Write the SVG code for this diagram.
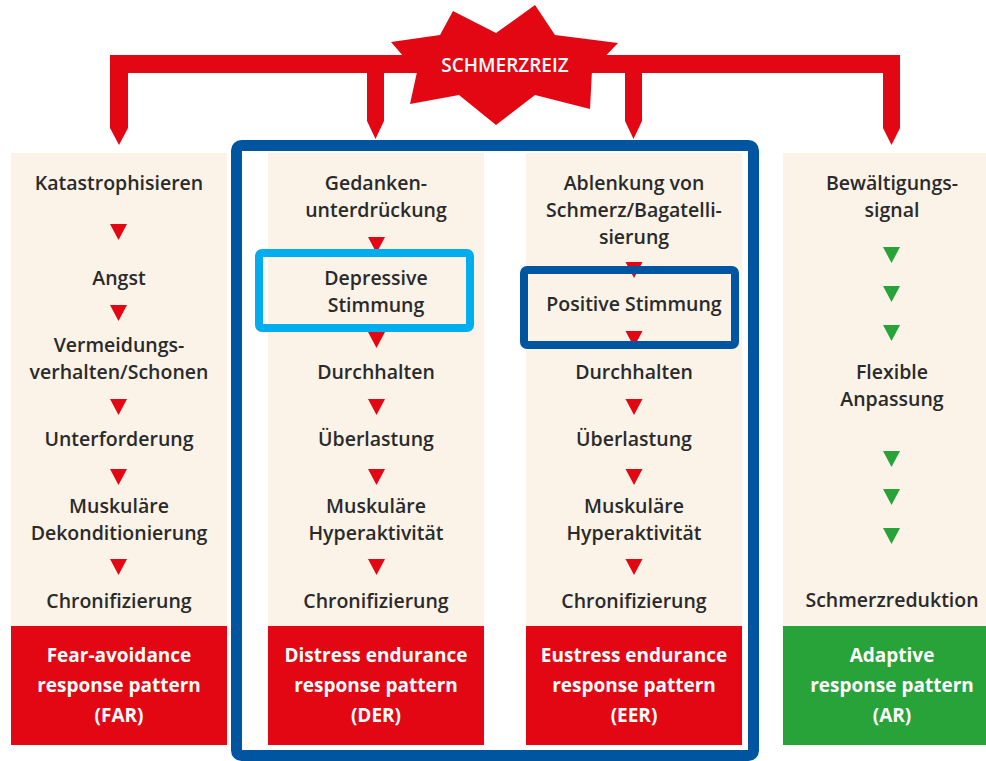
<svg xmlns="http://www.w3.org/2000/svg" xmlns:xlink="http://www.w3.org/1999/xlink" width="986" height="761" viewBox="0 0 986 761">
<style>
.bg{fill:#fbf3e8}
.red{fill:#e30613}
.green{fill:#27a33a}
.t{font-family:"Open Sans","Liberation Sans",sans-serif;font-size:19.5px;font-weight:600;fill:#2a2a2a;text-anchor:middle}
.w{font-family:"Open Sans","Liberation Sans",sans-serif;font-size:19px;font-weight:700;fill:#fff;text-anchor:middle}
.star{font-family:"Open Sans","Liberation Sans",sans-serif;font-size:19px;font-weight:600;fill:#fff;text-anchor:middle}
</style>
<defs>
<path id="tri" d="M-8.5,0 H8.5 L0,16 Z"/>
</defs>
<rect width="986" height="761" fill="#fff"/>

<g id="columns">
<rect class="bg" x="11" y="153" width="216" height="473"/>
<rect class="bg" x="268" y="153" width="216" height="473"/>
<rect class="bg" x="526" y="153" width="216" height="473"/>
<rect class="bg" x="783" y="153" width="216" height="473"/>
</g>

<g id="connectors">
<path class="red" d="M110,55 H900 V128 L891.5,145 L883,128 V73 H642 V121 L633.5,139 L625,121 V73 H384 V121 L375.5,139 L367,121 V73 H128 V128 L119,145 L110,128 Z"/>
<g class="red">
<use xlink:href="#tri" x="118.5" y="224"/>
<use xlink:href="#tri" x="118.5" y="305"/>
<use xlink:href="#tri" x="118.5" y="399"/>
<use xlink:href="#tri" x="118.5" y="469"/>
<use xlink:href="#tri" x="118.5" y="559"/>
<use xlink:href="#tri" x="376.5" y="237"/>
<use xlink:href="#tri" x="376.5" y="332"/>
<use xlink:href="#tri" x="376.5" y="399"/>
<use xlink:href="#tri" x="376.5" y="469"/>
<use xlink:href="#tri" x="376.5" y="559"/>
<use xlink:href="#tri" x="634" y="262"/>
<use xlink:href="#tri" x="634" y="331"/>
<use xlink:href="#tri" x="634" y="399"/>
<use xlink:href="#tri" x="634" y="469"/>
<use xlink:href="#tri" x="634" y="559"/>
</g>
<g class="green">
<use xlink:href="#tri" x="891.5" y="247"/>
<use xlink:href="#tri" x="891.5" y="286"/>
<use xlink:href="#tri" x="891.5" y="325"/>
<use xlink:href="#tri" x="891.5" y="451"/>
<use xlink:href="#tri" x="891.5" y="489"/>
<use xlink:href="#tri" x="891.5" y="528"/>
</g>
</g>

<g id="schmerzreiz">
<polygon class="red" points="453,11 496,33 535,5 555,35 618,43 592,70 590,109 535,95 496,125 459,95 410,104 417,72 391,42 440,35"/>
<text class="star" x="505" y="72">SCHMERZREIZ</text>
</g>

<g id="far">
<g id="far1"><text class="t" x="119" y="190">Katastrophisieren</text></g>
<g id="far2"><text class="t" x="119" y="285">Angst</text></g>
<g id="far3"><text class="t" x="119" y="352">Vermeidungs-</text><text class="t" x="119" y="379">verhalten/Schonen</text></g>
<g id="far4"><text class="t" x="119" y="446">Unterforderung</text></g>
<g id="far5"><text class="t" x="119" y="513">Muskuläre</text><text class="t" x="119" y="540">Dekonditionierung</text></g>
<g id="far6"><text class="t" x="119" y="608">Chronifizierung</text></g>
<g id="far-box"><rect class="red" x="11" y="626" width="216" height="119"/>
<text class="w" x="119" y="662">Fear-avoidance</text><text class="w" x="119" y="692">response pattern</text><text class="w" x="119" y="722">(FAR)</text></g>
</g>

<g id="der">
<g id="der1"><text class="t" x="376" y="190">Gedanken-</text><text class="t" x="376" y="217">unterdrückung</text></g>
<g id="der2"><text class="t" x="376" y="285">Depressive</text><text class="t" x="376" y="312">Stimmung</text></g>
<g id="der3"><text class="t" x="376" y="379">Durchhalten</text></g>
<g id="der4"><text class="t" x="376" y="446">Überlastung</text></g>
<g id="der5"><text class="t" x="376" y="513">Muskuläre</text><text class="t" x="376" y="540">Hyperaktivität</text></g>
<g id="der6"><text class="t" x="376" y="608">Chronifizierung</text></g>
<g id="der-box"><rect class="red" x="268" y="626" width="216" height="119"/>
<text class="w" x="376" y="662">Distress endurance</text><text class="w" x="376" y="692">response pattern</text><text class="w" x="376" y="722">(DER)</text></g>
</g>

<g id="eer">
<g id="eer1"><text class="t" x="634" y="190">Ablenkung von</text><text class="t" x="634" y="217">Schmerz/Bagatelli-</text><text class="t" x="634" y="244">sierung</text></g>
<g id="eer2"><text class="t" x="634" y="311">Positive Stimmung</text></g>
<g id="eer3"><text class="t" x="634" y="379">Durchhalten</text></g>
<g id="eer4"><text class="t" x="634" y="446">Überlastung</text></g>
<g id="eer5"><text class="t" x="634" y="513">Muskuläre</text><text class="t" x="634" y="540">Hyperaktivität</text></g>
<g id="eer6"><text class="t" x="634" y="608">Chronifizierung</text></g>
<g id="eer-box"><rect class="red" x="526" y="626" width="216" height="119"/>
<text class="w" x="634" y="662">Eustress endurance</text><text class="w" x="634" y="692">response pattern</text><text class="w" x="634" y="722">(EER)</text></g>
</g>

<g id="ar">
<g id="ar1"><text class="t" x="892" y="190">Bewältigungs-</text><text class="t" x="892" y="217">signal</text></g>
<g id="ar2"><text class="t" x="892" y="379">Flexible</text><text class="t" x="892" y="406">Anpassung</text></g>
<g id="ar3"><text class="t" x="892" y="607">Schmerzreduktion</text></g>
<g id="ar-box"><rect class="green" x="783" y="626" width="216" height="119"/>
<text class="w" x="892" y="662">Adaptive</text><text class="w" x="892" y="692">response pattern</text><text class="w" x="892" y="722">(AR)</text></g>
</g>

<g id="highlights" fill="none">
<rect id="frame" x="236.5" y="145.5" width="517" height="610" rx="5" stroke="#0055a0" stroke-width="11"/>
<rect id="depressive-box" x="259" y="253" width="211" height="75" rx="3" stroke="#00aeef" stroke-width="8"/>
<rect id="positive-box" x="524" y="270" width="211" height="75" rx="3" stroke="#0055a0" stroke-width="8"/>
</g>
</svg>
